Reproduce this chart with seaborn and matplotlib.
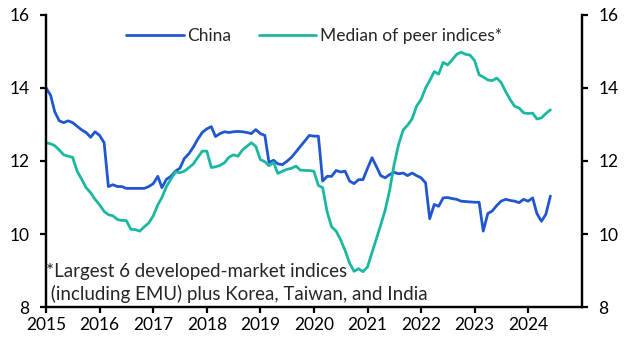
import numpy as np
import pandas as pd
import matplotlib
matplotlib.use("Agg")
import matplotlib.pyplot as plt
import matplotlib.dates as mdates
import seaborn as sns

# monthly data, Jan 2015 - Jun 2024
dates = pd.date_range("2015-01-01", "2024-06-01", freq="MS")

china = [
    14.0, 13.8, 13.35, 13.1, 13.05, 13.1, 13.05, 12.95, 12.85, 12.78, 12.65, 12.8,
    12.7, 12.5, 11.3, 11.35, 11.3, 11.3, 11.25, 11.25, 11.25, 11.25, 11.25, 11.3,
    11.38, 11.58, 11.27, 11.5, 11.58, 11.72, 11.8, 12.07, 12.2, 12.38, 12.6, 12.78,
    12.88, 12.94, 12.67, 12.75, 12.8, 12.78, 12.8, 12.81, 12.8, 12.78, 12.75, 12.86,
    12.75, 12.7, 11.96, 12.02, 11.92, 11.9, 11.99, 12.1, 12.25, 12.4, 12.55, 12.7,
    12.68, 12.68, 11.45, 11.58, 11.58, 11.74, 11.7, 11.72, 11.45, 11.38, 11.49, 11.49,
    11.8, 12.09, 11.86, 11.6, 11.54, 11.63, 11.69, 11.65, 11.67, 11.6, 11.67, 11.6,
    11.54, 11.4, 10.42, 10.81, 10.76, 10.99, 11.0, 10.97, 10.95, 10.9, 10.89, 10.88,
    10.87, 10.87, 10.08, 10.56, 10.63, 10.78, 10.9, 10.95, 10.92, 10.9, 10.86, 10.95,
    10.9, 10.99, 10.56, 10.35, 10.54, 11.04,
]

peers = [
    12.5, 12.47, 12.42, 12.3, 12.17, 12.13, 12.1, 11.72, 11.5, 11.27, 11.13, 10.95,
    10.8, 10.62, 10.53, 10.5, 10.4, 10.37, 10.37, 10.13, 10.12, 10.08, 10.2, 10.3,
    10.5, 10.8, 11.0, 11.3, 11.5, 11.7, 11.68, 11.72, 11.82, 11.92, 12.1, 12.27,
    12.27, 11.82, 11.84, 11.88, 11.95, 12.1, 12.17, 12.13, 12.3, 12.4, 12.5, 12.4,
    12.04, 11.98, 11.87, 11.96, 11.66, 11.72, 11.77, 11.8, 11.86, 11.75, 11.74, 11.74,
    11.72, 11.33, 11.27, 10.6, 10.2, 10.08, 9.85, 9.55, 9.2, 8.98, 9.05, 8.97,
    9.1, 9.5, 9.85, 10.25, 10.65, 11.2, 11.9, 12.45, 12.85, 12.98, 13.15, 13.5,
    13.68, 14.0, 14.2, 14.45, 14.38, 14.7, 14.63, 14.77, 14.92, 14.98, 14.92, 14.9,
    14.75, 14.36, 14.3, 14.22, 14.2, 14.27, 14.15, 13.9, 13.68, 13.5, 13.45, 13.32,
    13.3, 13.31, 13.15, 13.18, 13.3, 13.4,
]

series_names = ["China", "Median of peer indices*"]
colors = ["#2057d0", "#1bb8a0"]
yticks = [8, 10, 12, 14, 16]
xtick_years = list(range(2015, 2025))
note = "*Largest 6 developed-market indices\n (including EMU) plus Korea, Taiwan, and India"

df = pd.DataFrame({"date": dates, series_names[0]: china, series_names[1]: peers})
long = df.melt(id_vars="date", var_name="series", value_name="value")

sns.set_theme(style="white")
plt.rcParams["font.family"] = ["Lato", "DejaVu Sans"]

fig = plt.figure(figsize=(6.31, 3.55), dpi=100)
ax = fig.add_axes([0.073, 0.135, 0.849, 0.823])

sns.lineplot(data=long, x="date", y="value", hue="series", palette=colors,
             linewidth=2.0, ax=ax)

ax.set_xlim(pd.Timestamp("2015-01-01"), pd.Timestamp("2025-01-01"))
ax.set_ylim(8, 16)
ax.set_yticks(yticks)
ax.set_xticks([pd.Timestamp(f"{y}-01-01") for y in xtick_years])
ax.xaxis.set_major_formatter(mdates.DateFormatter("%Y"))
ax.set_xlabel("")
ax.set_ylabel("")

ax2 = ax.twinx()
ax2.set_ylim(8, 16)
ax2.set_yticks(yticks)

for a in (ax, ax2):
    for side in ("left", "right", "bottom"):
        a.spines[side].set_linewidth(1.6)
        a.spines[side].set_color("black")
    a.spines["top"].set_visible(False)
    a.tick_params(axis="both", length=4, width=1.6, colors="black",
                  labelsize=12.5, pad=8)
ax.tick_params(axis="x", pad=3)
ax.tick_params(axis="y", left=True)
ax.tick_params(axis="x", bottom=True)
ax2.tick_params(axis="y", right=True)

leg = ax.legend(loc="upper center", bbox_to_anchor=(0.5, 1.01), ncol=2,
                frameon=False, fontsize=12.5, handlelength=3.3,
                handletextpad=0.2, columnspacing=1.6)

ax.text(0.0, 0.015, note, transform=ax.transAxes, fontsize=13.5,
        ha="left", va="bottom", linespacing=1.3)

fig.savefig("out.png", dpi=100)
